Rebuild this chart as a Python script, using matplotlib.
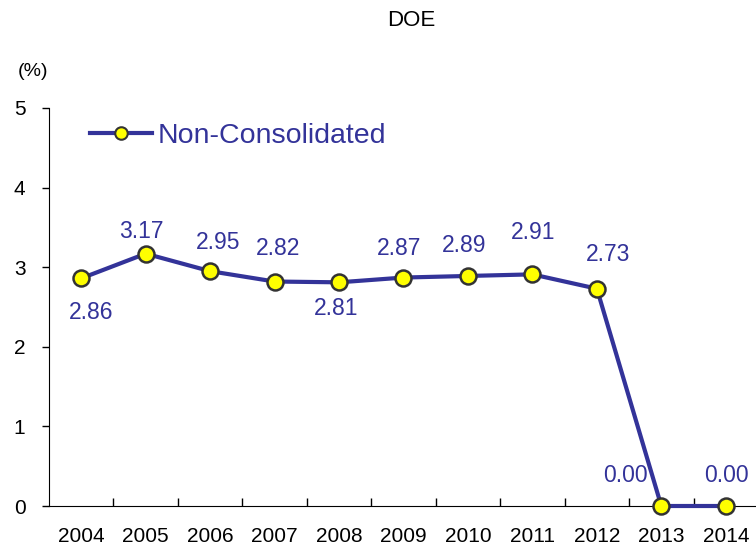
import numpy as np
import matplotlib.pyplot as plt
from matplotlib.lines import Line2D

years = ['2004', '2005', '2006', '2007', '2008', '2009', '2010', '2011', '2012', '2013', '2014']
doe = [2.86, 3.17, 2.95, 2.82, 2.81, 2.87, 2.89, 2.91, 2.73, 0.00, 0.00]
# label offsets in pixels (dx, dy) from each point
label_off = [(10, -34), (-4, 22), (8, 29), (3, 33), (-3, -26), (-4, 29), (-4, 30), (1, 42), (11, 34), (-36, 30), (1, 30)]

blue = '#333399'
plt.rcParams['font.family'] = ['Liberation Sans', 'DejaVu Sans']

fig = plt.figure(figsize=(7.56, 5.47), dpi=100)
# axes: left 49px, right ~758px, bottom at y=506, top at y=108
ax = fig.add_axes([49 / 756, (547 - 506) / 547, (758 - 49) / 756, (506 - 108) / 547])

x = np.arange(len(years))
ax.plot(x, doe, color=blue, lw=3, marker='o', ms=11.5, mfc='#ffff00',
        mec='#333333', mew=1.8, zorder=3, clip_on=False)

for xi, v, (dx, dy) in zip(x, doe, label_off):
    ax.annotate(f'{v:.2f}', (xi, v), xytext=(dx, dy), textcoords='offset pixels',
                ha='center', va='center', color=blue, fontsize=16.5)

ax.set_xlim(-0.5, len(years) - 0.5)
ax.set_ylim(0, 5)
ax.set_yticks([0, 1, 2, 3, 4, 5])
ax.tick_params(axis='y', direction='out', length=5, width=1, labelsize=15, pad=12)
ax.set_xticks(x)
ax.set_xticklabels(years)
ax.tick_params(axis='x', length=0, labelsize=15, pad=15)
ax.set_xticks(np.arange(0.5, len(years) - 0.5, 1), minor=True)
ax.tick_params(axis='x', which='minor', direction='in', length=6, width=1)
ax.spines['top'].set_visible(False)
ax.spines['right'].set_visible(False)

fig.text(411 / 756, 1 - 20 / 547, 'DOE', ha='center', va='center', fontsize=16,
         family=['Liberation Sans Narrow', 'Liberation Sans'])
fig.text(33 / 756, 1 - 71 / 547, '(%)', ha='center', va='center', fontsize=14)

handle = Line2D([], [], color=blue, lw=3, marker='o', ms=9, mfc='#ffff00', mec='#333333', mew=1.5)
ax.legend([handle], ['Non-Consolidated'], loc='center left',
          bbox_to_anchor=(90 / 756, 1 - 136 / 547), bbox_transform=fig.transFigure,
          frameon=False, fontsize=20.5, labelcolor=blue, borderpad=0, borderaxespad=0,
          handlelength=2.18, handletextpad=0.18)

fig.savefig('out.png', dpi=100)
